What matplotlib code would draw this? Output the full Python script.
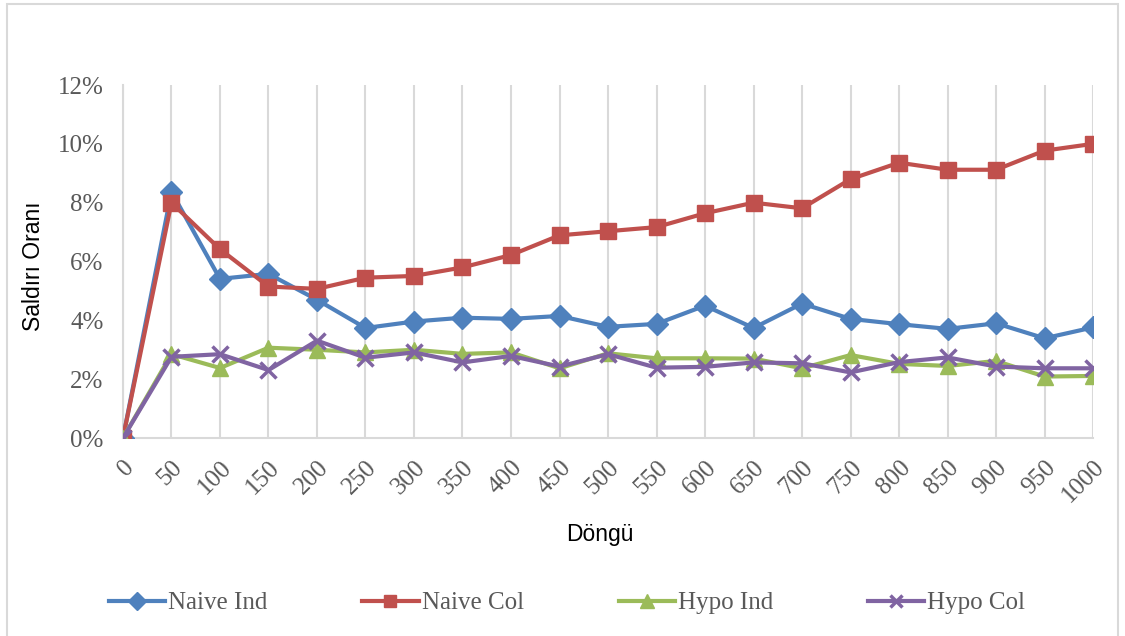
import numpy as np
import matplotlib
matplotlib.use('Agg')
import matplotlib.pyplot as plt
from matplotlib.patches import Rectangle
from matplotlib.ticker import FuncFormatter

# döngü sayıları
dongu = [0, 50, 100, 150, 200, 250, 300, 350, 400, 450, 500,
         550, 600, 650, 700, 750, 800, 850, 900, 950, 1000]

# saldırı oranları (%)
naive_ind = [0.0, 8.37, 5.41, 5.58, 4.70, 3.74, 3.96, 4.09, 4.05, 4.15, 3.78,
             3.88, 4.50, 3.74, 4.57, 4.05, 3.87, 3.71, 3.90, 3.39, 3.76]
naive_col = [0.0, 8.00, 6.42, 5.15, 5.07, 5.45, 5.51, 5.80, 6.22, 6.89, 7.03,
             7.17, 7.64, 8.00, 7.81, 8.80, 9.36, 9.12, 9.12, 9.77, 10.00]
hypo_ind = [0.0, 2.85, 2.38, 3.07, 3.00, 2.91, 3.00, 2.86, 2.91, 2.37, 2.88,
            2.71, 2.71, 2.70, 2.37, 2.82, 2.52, 2.45, 2.62, 2.09, 2.11]
hypo_col = [0.0, 2.76, 2.85, 2.31, 3.31, 2.73, 2.91, 2.57, 2.79, 2.43, 2.85,
            2.39, 2.42, 2.57, 2.54, 2.23, 2.58, 2.74, 2.43, 2.37, 2.37]

seriler = [
    ('Naive Ind', naive_ind, '#4F81BD', 'D', 11),
    ('Naive Col', naive_col, '#C0504D', 's', 11),
    ('Hypo Ind', hypo_ind, '#9BBB59', '^', 12),
    ('Hypo Col', hypo_col, '#8064A2', 'x', 11),
]

serif = ['Liberation Serif', 'DejaVu Serif']
sans = ['Liberation Sans', 'DejaVu Sans']
gri = '#595959'
cizgi_gri = '#D9D9D9'

fig = plt.figure(figsize=(11.25, 6.36), dpi=100)
ax = fig.add_axes([0.1093, 0.3113, 0.8623, 0.5550])

for ad, y, renk, isaret, boyut in seriler:
    ax.plot(dongu, y, color=renk, lw=3, marker=isaret, ms=boyut,
            mew=2.5 if isaret == 'x' else 1, mfc=renk, mec=renk, label=ad,
            zorder=3)

ax.set_xlim(0, 1000)
ax.set_ylim(0, 12)
ax.set_xticks(dongu)
ax.set_yticks(np.arange(0, 13, 2))
ax.yaxis.set_major_formatter(FuncFormatter(lambda v, p: f'{v:.0f}%'))
ax.grid(axis='x', color=cizgi_gri, lw=1.5, zorder=0)
ax.tick_params(length=0, colors=gri)
ax.tick_params(axis='y', labelsize=18, pad=14)
for lbl in ax.get_yticklabels():
    lbl.set_family(serif)
ax.set_xticklabels([str(d) for d in dongu], rotation=45, ha='right',
                   va='top', rotation_mode='anchor', family=serif, fontsize=18)
ax.tick_params(axis='x', pad=13)

for s in ['top', 'right']:
    ax.spines[s].set_visible(False)
for s in ['left', 'bottom']:
    ax.spines[s].set_color(cizgi_gri)
    ax.spines[s].set_linewidth(1.5)

# eksen başlıkları
fig.text(33 / 1125, 1 - 266 / 636, 'Saldırı Oranı', rotation=90,
         ha='center', va='center', family=sans, fontsize=16.5)
fig.text(600 / 1125, 1 - 535 / 636, 'Döngü', ha='center', va='center',
         family=sans, fontsize=16.5)

leg = fig.legend(loc='center', bbox_to_anchor=(567 / 1125, 1 - 603 / 636),
                 ncol=4, frameon=False, prop={'family': serif, 'size': 18},
                 handlelength=2.25, handletextpad=0.12, columnspacing=3.8,
                 markerscale=0.8)
for t in leg.get_texts():
    t.set_color(gri)

# grafik alanı çerçevesi
fig.patches.append(Rectangle((7 / 1125, -0.01), 1111 / 1125, 1 - 4 / 636 + 0.01,
                             transform=fig.transFigure, fill=False,
                             ec=cizgi_gri, lw=1.5))

fig.savefig('out.png', dpi=100)
